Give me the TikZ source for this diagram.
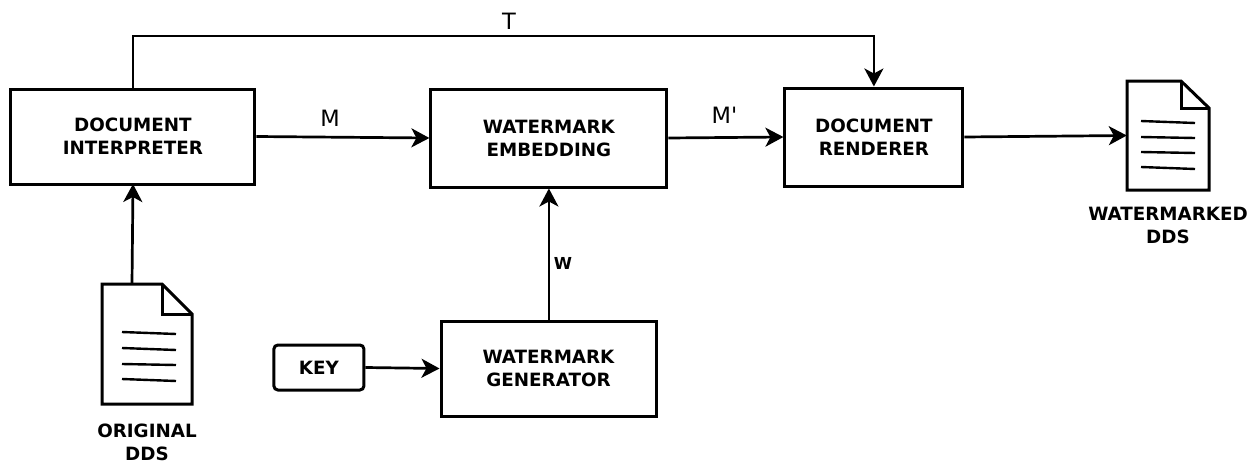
\documentclass[tikz,border=0pt]{standalone}
\usepackage{fontspec}
\setmainfont{DejaVu Sans}
\usetikzlibrary{arrows.meta}
\tikzset{
  x=1pt,y=-1pt,
  blockbox/.style={draw=black,line width=3pt,fill=white,inner sep=0pt,align=center,font=\fontsize{18.3}{23}\selectfont\bfseries},
  keybox/.style={blockbox,rounded corners=4pt},
  conn/.style={draw=black,line width=2.7pt,-{Stealth[length=18pt,width=19pt,inset=5pt]}},
  plainlabel/.style={inner sep=0pt,font=\fontsize{22.5}{26}\selectfont},
  smalllabel/.style={inner sep=0pt,font=\fontsize{16.5}{20}\selectfont\bfseries},
  doclabel/.style={inner sep=0pt,align=center,font=\fontsize{18.3}{22.5}\selectfont\bfseries},
  docline/.style={draw=black,line width=2.4pt},
  docedge/.style={draw=black,line width=3pt,line join=miter},
  docanchor/.style={inner sep=0pt,minimum width=#1,draw=none},
}
\begin{document}
\begin{tikzpicture}
\useasboundingbox (0,0) rectangle (1256,463);
% blocks
\node[blockbox,minimum width=244pt,minimum height=95pt] (interp) at (132.9,136.5) {DOCUMENT\\INTERPRETER};
\node[blockbox,minimum width=236pt,minimum height=98pt] (embed) at (548.9,138) {WATERMARK\\EMBEDDING};
\node[blockbox,minimum width=178pt,minimum height=98pt] (render) at (873.9,137) {DOCUMENT\\RENDERER};
\node[blockbox,minimum width=215pt,minimum height=95pt] (gen) at (548.5,368.5) {WATERMARK\\GENERATOR};
\node[keybox,minimum width=90pt,minimum height=45pt] (key) at (318.9,367.5) {KEY};
% original document
\node[docanchor=90pt,minimum height=120pt] (docA) at (147,344) {};
\draw[docedge] (102,284) -- (162,284) -- (192,314) -- (192,404) -- (102,404) -- cycle;
\draw[docedge] (162,284) -- (162,314) -- (192,314);
\draw[docline] (122,332) -- (176,334);
\draw[docline] (122,348) -- (176,350);
\draw[docline] (122,364) -- (176,365);
\draw[docline] (122,379) -- (176,381);
\node[doclabel] (docAlabel) at (147,442.5) {ORIGINAL\\DDS};
% watermarked document
\node[docanchor=82pt,minimum height=109pt] (docB) at (1168,135.5) {};
\draw[docedge] (1127,81) -- (1181,81) -- (1209,108) -- (1209,190) -- (1127,190) -- cycle;
\draw[docedge] (1181,81) -- (1181,108) -- (1209,108);
\draw[docline] (1141,121) -- (1195,123);
\draw[docline] (1141,137) -- (1195,138);
\draw[docline] (1141,152) -- (1195,153);
\draw[docline] (1141,167) -- (1195,169);
\node[doclabel] (docBlabel) at (1168,225.5) {WATERMARKED\\DDS};
% connectors
\coordinate (docAout) at (132,284);
\coordinate (interpIn) at (133,184);
\draw[conn] (docAout) -- (interpIn);
\draw[conn] (interp.east) -- (embed.west);
\draw[conn] (embed.east) -- (render.west);
\draw[conn] (render.east) -- (docB.west);
\draw[conn] (gen.north -| embed.south) -- (embed.south);
\draw[conn] (key.east) -- (gen.west);
\draw[conn] (interp.north) -- ++(0,-51.5) -| (render.north);
% labels
\node[plainlabel] (labT) at (509,21) {T};
\node[plainlabel] (labM) at (330,118) {M};
\node[plainlabel] (labMp) at (724.5,115) {M\textquotesingle};
\node[smalllabel] (labW) at (563,263) {W};
\end{tikzpicture}
\end{document}
